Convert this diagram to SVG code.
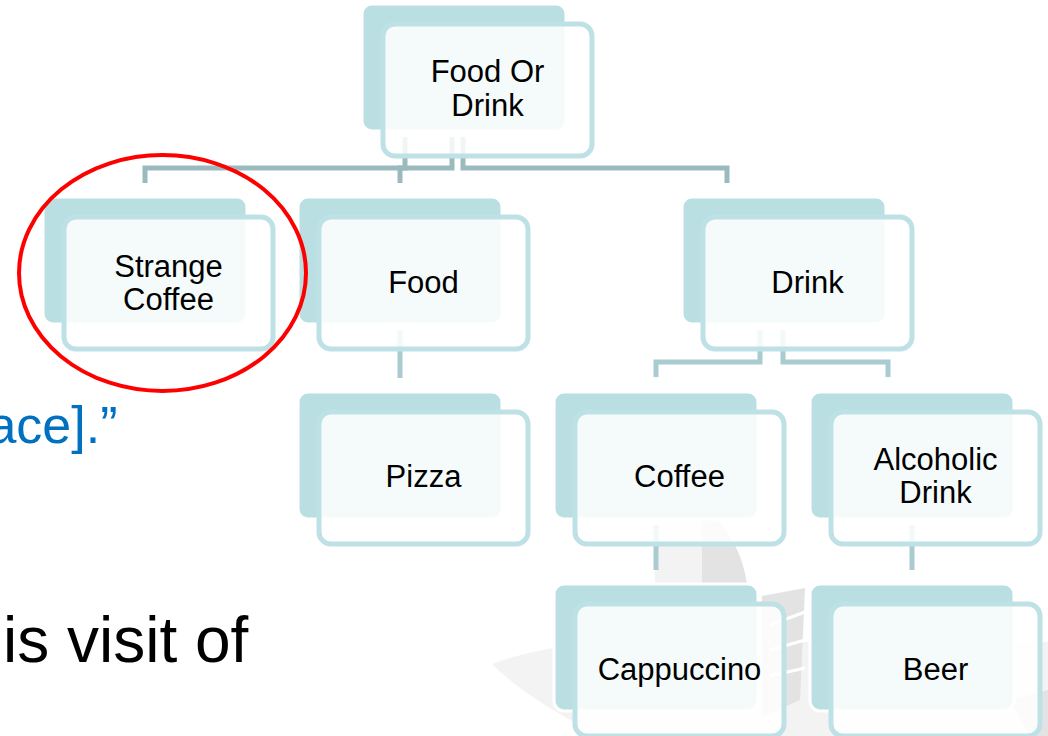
<svg xmlns="http://www.w3.org/2000/svg" width="1048" height="736" viewBox="0 0 1048 736">
<style>
.bk{fill:#badfe2;stroke:#ffffff;stroke-width:3}
.fr{fill:#ffffff;fill-opacity:0.86;stroke:#bde1e4;stroke-width:5}
.lb{font-family:"Liberation Sans",Arial,sans-serif;font-size:31px;fill:#000000;text-anchor:middle}
.c1{fill:none;stroke:#9bbabd;stroke-width:5}
.c2{fill:none;stroke:#a9ccd0;stroke-width:5}
.wm1{fill:#f3f3f3}
.wm2{fill:#e3e3e3}
</style>
<rect x="0" y="0" width="1048" height="736" fill="#ffffff"/>
<g id="watermark">
<path class="wm1" d="M492,664 C530,650 570,644 620,642 L1048,642 L1048,736 L600,736 C560,715 520,692 492,664 Z"/>
<path class="wm1" d="M655,520 L702,520 L702,592 L655,592 Z"/>
<path class="wm2" d="M702,520 L718,520 C735,540 745,562 748,592 L702,592 Z"/>
<path class="wm2" d="M805,588 L762,596 L762,717 L800,700 Z"/>
<path d="M805,612 L770,625 M805,640 L770,650 M805,668 L770,676" stroke="#ffffff" stroke-width="3" fill="none"/>
<path class="wm2" d="M1010,700 L1048,690 L1048,736 L1030,736 Z"/>
</g>
<g id="connectors">
<path class="c1" d="M405,137 V168 H145 V183"/>
<path class="c1" d="M452,137 V168 H400 V183"/>
<path class="c1" d="M463,137 V168 H727 V183"/>
<path class="c2" d="M400,330 V378"/>
<path class="c2" d="M760,330 V362 H656 V377"/>
<path class="c2" d="M783,330 V362 H888 V377"/>
<path class="c2" d="M656,525 V570"/>
<path class="c2" d="M912,525 V570"/>
</g>
<g id="node-food-or-drink">
<rect class="bk" x="362" y="4" width="204" height="127" rx="10"/>
<rect class="fr" x="383" y="24" width="209" height="132" rx="12"/>
<text class="lb" x="487.5" y="82">Food Or</text>
<text class="lb" x="487.5" y="116">Drink</text>
</g>
<g id="node-strange-coffee">
<rect class="bk" x="43" y="197" width="204" height="127" rx="10"/>
<rect class="fr" x="64" y="217" width="209" height="132" rx="12"/>
<text class="lb" x="168.5" y="277">Strange</text>
<text class="lb" x="168.5" y="310">Coffee</text>
</g>
<g id="node-food">
<rect class="bk" x="298" y="197" width="204" height="127" rx="10"/>
<rect class="fr" x="319" y="217" width="209" height="132" rx="12"/>
<text class="lb" x="423.5" y="293">Food</text>
</g>
<g id="node-drink">
<rect class="bk" x="682" y="197" width="204" height="127" rx="10"/>
<rect class="fr" x="703" y="217" width="209" height="132" rx="12"/>
<text class="lb" x="807.5" y="293">Drink</text>
</g>
<g id="node-pizza">
<rect class="bk" x="298" y="392" width="204" height="127" rx="10"/>
<rect class="fr" x="319" y="412" width="209" height="132" rx="12"/>
<text class="lb" x="423.5" y="487">Pizza</text>
</g>
<g id="node-coffee">
<rect class="bk" x="554" y="392" width="204" height="127" rx="10"/>
<rect class="fr" x="575" y="412" width="209" height="132" rx="12"/>
<text class="lb" x="679.5" y="487">Coffee</text>
</g>
<g id="node-alcoholic-drink">
<rect class="bk" x="810" y="392" width="204" height="127" rx="10"/>
<rect class="fr" x="831" y="412" width="209" height="132" rx="12"/>
<text class="lb" x="935.5" y="470">Alcoholic</text>
<text class="lb" x="935.5" y="503">Drink</text>
</g>
<g id="node-cappuccino">
<rect class="bk" x="554" y="584" width="204" height="127" rx="10"/>
<rect class="fr" x="575" y="604" width="209" height="132" rx="12"/>
<text class="lb" x="679.5" y="680">Cappuccino</text>
</g>
<g id="node-beer">
<rect class="bk" x="810" y="584" width="204" height="127" rx="10"/>
<rect class="fr" x="831" y="604" width="209" height="132" rx="12"/>
<text class="lb" x="935.5" y="680">Beer</text>
</g>
<ellipse id="highlight" cx="162.5" cy="273" rx="143.5" ry="118" fill="none" stroke="#ff0000" stroke-width="4"/>
<text x="117.5" y="443" font-family="'Liberation Sans',Arial,sans-serif" font-size="52" fill="#0070c0" text-anchor="end">ace].”</text>
<text x="3" y="662" font-family="'Liberation Sans',Arial,sans-serif" font-size="64" fill="#000000">is visit of</text>
</svg>
